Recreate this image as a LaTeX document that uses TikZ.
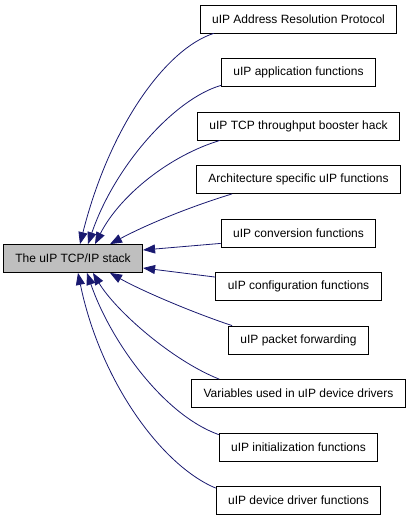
\documentclass[tikz,border=0pt]{standalone}
\usepackage{fontspec}
\setmainfont{Liberation Sans}
\usetikzlibrary{arrows.meta}
\definecolor{edgeblue}{HTML}{191970}

\begin{document}
\begin{tikzpicture}
[
  x = 1pt, y = -1pt,
  group/.style      = {shape=rectangle, draw, fill=white, line width=0.8pt,
                       minimum height=28pt, inner xsep=12pt,
                       font=\fontsize{12}{14}\selectfont},
  current/.style    = {group, fill=gray!50},
  dep/.style        = {draw=edgeblue, line width=0.8pt,
                       -{Triangle[length=12pt, width=9pt]}}
]
\useasboundingbox (0,0) rectangle (413,520);

\node [current] (stack) at (73,258.5) {The uIP TCP/IP stack};

\foreach \id/\ypos/\lbl in {
    arp/19/uIP Address Resolution Protocol,
    app/72.5/uIP application functions,
    tcp/126/uIP TCP throughput booster hack,
    arch/179.5/Architecture specific uIP functions,
    conv/233/uIP conversion functions,
    conf/286.5/uIP configuration functions,
    fwd/340/uIP packet forwarding,
    vars/393.5/Variables used in uIP device drivers,
    init/447/uIP initialization functions,
    drv/500.5/uIP device driver functions}
  \node [group] (\id) at (298.5,\ypos) {\lbl};

% groups above
\draw [dep] ([xshift=14pt]arp.south west)
  .. controls +(-47,15) and +(30,-119) .. ([xshift=7pt]stack.north);
\draw [dep] ([yshift=1.5pt]app.south west)
  .. controls +(-46,13) and +(27,-79) .. ([xshift=15pt]stack.north);
\draw [dep] ([xshift=23pt]tcp.south west)
  .. controls +(-50,15) and +(25,-49) .. ([xshift=22pt]stack.north);
\draw [dep] ([xshift=36pt]arch.south west)
  .. controls +(-52,16) and +(30,-16) .. ([xshift=37pt]stack.north);

% side
\draw [dep] ([yshift=4pt]conv.south west) -- ([yshift=8.5pt]stack.east);
\draw [dep] ([yshift=-5pt]conf.north west) -- ([yshift=-9.5pt]stack.east);

% groups below
\draw [dep] ([xshift=4pt]fwd.north west)
  .. controls +(-42,-14) and +(30,17) .. ([xshift=37pt]stack.south);
\draw [dep] ([xshift=28pt]vars.north west)
  .. controls +(-48,-19) and +(22,37) .. ([xshift=20pt]stack.south);
\draw [dep] ([yshift=-2pt]init.north west)
  .. controls +(-56,-20) and +(23,67) .. ([xshift=14pt]stack.south);
\draw [dep] ([yshift=-2pt]drv.north west)
  .. controls +(-55,-23) and +(22,107) .. ([xshift=5pt]stack.south);
\end{tikzpicture}
\end{document}
